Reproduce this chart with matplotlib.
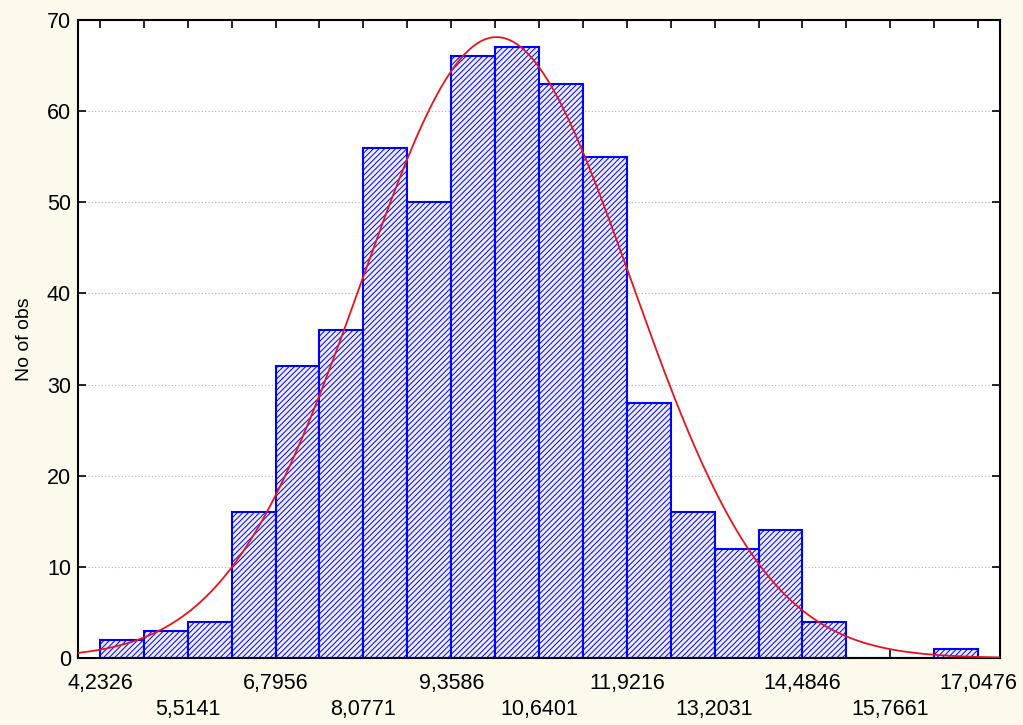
import numpy as np
import matplotlib
matplotlib.use("Agg")
import matplotlib.pyplot as plt

# Data
first_edge = 4.2326
bin_width = 0.64075
counts = [2, 3, 4, 16, 32, 36, 56, 50, 66, 67, 63, 55, 28, 16, 12, 14, 4, 0, 0, 1]
tick_labels = ["4,2326", "5,5141", "6,7956", "8,0771", "9,3586", "10,6401",
               "11,9216", "13,2031", "14,4846", "15,7661", "17,0476"]
fit_mean = 10.02
fit_sd = 1.97
y_label = "No of obs"

n_bins = len(counts)
edges = first_edge + bin_width * np.arange(n_bins + 1)
total = sum(counts)

plt.rcParams['font.family'] = ['Liberation Sans', 'DejaVu Sans']
plt.rcParams['hatch.linewidth'] = 0.7
plt.rcParams['hatch.color'] = '#0000ff'

fig = plt.figure(figsize=(10.23, 7.25), dpi=100, facecolor='#fdf9ec')
ax = fig.add_axes([78/1023, 1-658/725, (1000-78)/1023, (658-20)/725])
ax.set_facecolor('white')

ax.bar(edges[:-1], counts, width=bin_width, align='edge', facecolor='#ececfb',
       edgecolor='#0000ff', linewidth=1.5, hatch='//////', zorder=2)

xlim = (edges[0] - bin_width / 2, edges[-1] + bin_width / 2)
xs = np.linspace(xlim[0], xlim[1], 400)
ys = total * bin_width / (fit_sd * np.sqrt(2 * np.pi)) * np.exp(-0.5 * ((xs - fit_mean) / fit_sd) ** 2)
ax.plot(xs, ys, color='#e8141c', linewidth=1.3, zorder=3)

ax.set_xlim(*xlim)
ax.set_ylim(0, 70)
ax.set_yticks(np.arange(0, 71, 10))
ax.yaxis.grid(True, linestyle=(0, (1, 2)), color='#b0b0b0', linewidth=0.8, zorder=0)

label_pos = edges[::2]
labels = [lab if i % 2 == 0 else "\n" + lab for i, lab in enumerate(tick_labels)]
ax.set_xticks(label_pos)
ax.set_xticklabels(labels, linespacing=1.3)
ax.set_xticks(edges, minor=True)

ax.tick_params(axis='x', which='both', direction='in', top=True, bottom=True,
               length=6, width=1.2, labelsize=15.5, pad=11)
ax.tick_params(axis='y', direction='in', left=True, right=True, length=6, width=1.2,
               labelsize=15.5, pad=5)
for sp in ax.spines.values():
    sp.set_linewidth(1.5)
    sp.set_color('black')

ax.set_ylabel(y_label, fontsize=14, labelpad=10)

fig.savefig("out.png", dpi=100, facecolor=fig.get_facecolor())
